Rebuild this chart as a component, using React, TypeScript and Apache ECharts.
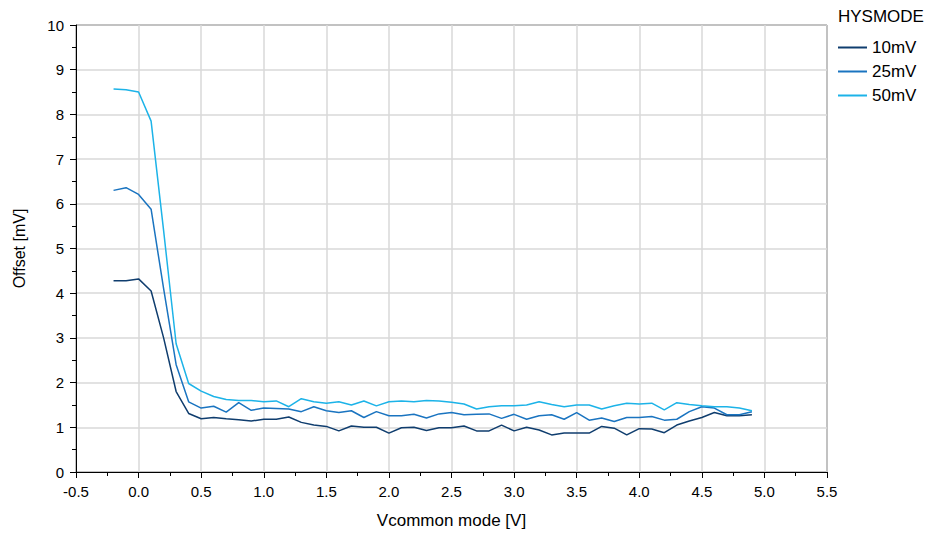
import React, { useEffect, useRef } from "react";
import * as echarts from "echarts";

const xValues: number[] = [
  -0.2, -0.1, 0.0, 0.1, 0.2, 0.3, 0.4, 0.5, 0.6, 0.7, 0.8, 0.9, 1.0, 1.1, 1.2, 1.3, 1.4, 1.5, 1.6, 1.7,
  1.8, 1.9, 2.0, 2.1, 2.2, 2.3, 2.4, 2.5, 2.6, 2.7, 2.8, 2.9, 3.0, 3.1, 3.2, 3.3, 3.4, 3.5, 3.6, 3.7,
  3.8, 3.9, 4.0, 4.1, 4.2, 4.3, 4.4, 4.5, 4.6, 4.7, 4.8, 4.9,
];

const offset10mV: number[] = [
  4.28, 4.28, 4.32, 4.05, 3.0, 1.8, 1.31, 1.19, 1.22, 1.19, 1.17, 1.14, 1.18, 1.18, 1.23, 1.11, 1.05, 1.02, 0.92, 1.03,
  1.0, 1.0, 0.87, 0.99, 1.0, 0.93, 0.99, 0.99, 1.03, 0.92, 0.92, 1.05, 0.92, 1.0, 0.94, 0.83, 0.87, 0.87, 0.87, 1.02,
  0.98, 0.83, 0.97, 0.96, 0.88, 1.05, 1.14, 1.22, 1.33, 1.26, 1.26, 1.28,
];

const offset25mV: number[] = [
  6.3, 6.36, 6.21, 5.88, 4.1, 2.4, 1.57, 1.43, 1.47, 1.34, 1.55, 1.38, 1.43, 1.42, 1.41, 1.35, 1.46, 1.37, 1.33, 1.37,
  1.22, 1.35, 1.26, 1.26, 1.29, 1.21, 1.3, 1.33, 1.28, 1.29, 1.3, 1.2, 1.29, 1.18, 1.26, 1.28, 1.18, 1.33, 1.16, 1.21,
  1.13, 1.22, 1.22, 1.24, 1.16, 1.18, 1.35, 1.46, 1.43, 1.28, 1.28, 1.35,
];

const offset50mV: number[] = [
  8.57, 8.55, 8.5, 7.85, 5.4, 2.87, 1.98, 1.81, 1.69, 1.62, 1.6, 1.6, 1.57, 1.59, 1.46, 1.64, 1.57, 1.54, 1.57, 1.5,
  1.59, 1.48, 1.57, 1.59, 1.57, 1.6, 1.59, 1.56, 1.52, 1.41, 1.46, 1.48, 1.48, 1.5, 1.57, 1.51, 1.46, 1.5, 1.5, 1.41,
  1.48, 1.54, 1.52, 1.54, 1.39, 1.55, 1.51, 1.48, 1.46, 1.46, 1.43, 1.37,
];

const seriesNames: string[] = ["10mV", "25mV", "50mV"];
const seriesColors: string[] = ["#0f3d6e", "#1a74c0", "#1cb3e8"];

const FONT = "'Liberation Sans', Arial, sans-serif";

export default function App() {
  const ref = useRef<HTMLDivElement>(null);

  useEffect(() => {
    if (!ref.current) return;
    const chart = echarts.init(ref.current, null, { renderer: "svg" });
    const allData = [offset10mV, offset25mV, offset50mV];
    const series = seriesNames.map((name, i) => ({
      name,
      type: "line" as const,
      data: xValues.map((x, j) => [x, allData[i][j]]),
      showSymbol: false,
      symbol: "none",
      lineStyle: { color: seriesColors[i], width: 1.5 },
      itemStyle: { color: seriesColors[i] },
      z: 3,
    }));

    chart.setOption({
      animation: false,
      backgroundColor: "#ffffff",
      textStyle: { fontFamily: FONT },
      title: {
        text: "HYSMODE",
        left: 833,
        top: 3,
        textStyle: { fontFamily: FONT, fontSize: 17, fontWeight: "normal", color: "#000" },
      },
      legend: {
        orient: "vertical",
        left: 833,
        top: 34,
        icon: "rect",
        itemWidth: 29,
        itemHeight: 2,
        itemGap: 7,
        data: seriesNames,
        textStyle: { fontFamily: FONT, fontSize: 17, color: "#000", padding: [0, 0, 0, 0] },
      },
      grid: {
        left: 76,
        right: 103,
        top: 25,
        bottom: 60,
        show: true,
        borderColor: "#000",
        borderWidth: 1,
        backgroundColor: "transparent",
      },
      xAxis: {
        type: "value",
        min: -0.5,
        max: 5.5,
        interval: 0.5,
        name: "Vcommon mode [V]",
        nameLocation: "middle",
        nameGap: 40,
        nameTextStyle: { fontFamily: FONT, fontSize: 17, color: "#000" },
        axisLine: { show: true, onZero: false, lineStyle: { color: "#000", width: 1 } },
        axisTick: { show: true, length: 6, lineStyle: { color: "#000" } },
        minorTick: { show: true, splitNumber: 2, length: 4, lineStyle: { color: "#000" } },
        axisLabel: {
          fontFamily: FONT,
          fontSize: 15,
          color: "#000",
          margin: 12,
          formatter: (v: number) => v.toFixed(1),
        },
        splitLine: { show: true, lineStyle: { color: "#d9d9d9", width: 1.5 } },
      },
      yAxis: {
        type: "value",
        min: 0,
        max: 10,
        interval: 1,
        name: "Offset [mV]",
        nameLocation: "middle",
        nameGap: 49,
        nameTextStyle: { fontFamily: FONT, fontSize: 16, color: "#000" },
        axisLine: { show: true, onZero: false, lineStyle: { color: "#000", width: 1 } },
        axisTick: { show: true, length: 6, lineStyle: { color: "#000" } },
        minorTick: { show: true, splitNumber: 2, length: 4, lineStyle: { color: "#000" } },
        axisLabel: { fontFamily: FONT, fontSize: 15, color: "#000", margin: 12 },
        splitLine: { show: true, lineStyle: { color: "#d9d9d9", width: 1.5 } },
      },
      series,
    });

    return () => chart.dispose();
  }, []);

  return <div ref={ref} style={{ width: 930, height: 534, position: "absolute", left: 0, top: 0 }} />;
}
